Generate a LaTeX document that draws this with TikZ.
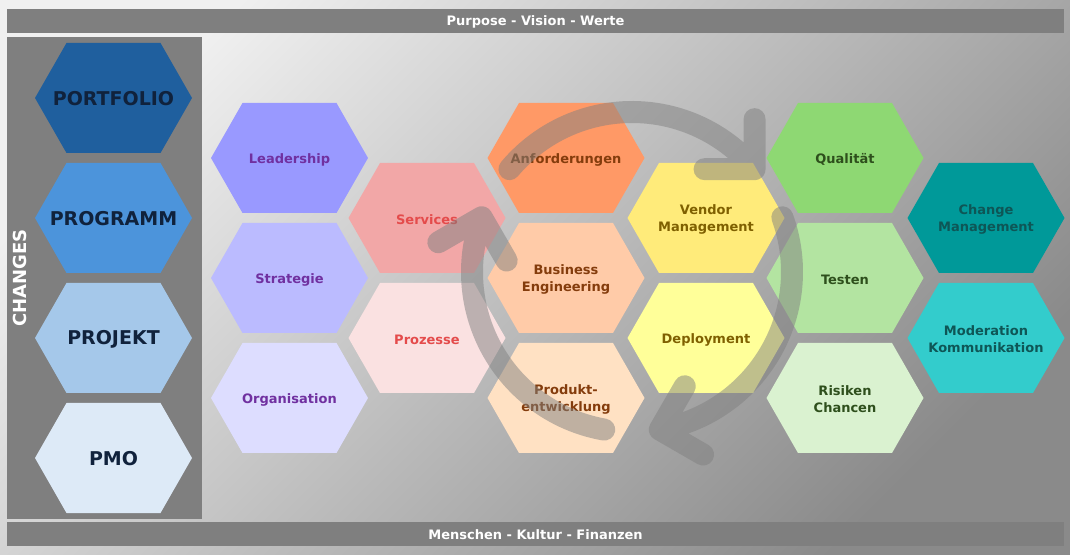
\documentclass[tikz,border=0pt]{standalone}
\usepackage{fontspec}
\setmainfont{DejaVu Sans}
\usetikzlibrary{calc}

\definecolor{bgLight}{HTML}{F0F0F0}
\definecolor{bgDark}{HTML}{8A8A8A}
\definecolor{barGray}{HTML}{7F7F7F}
\definecolor{cPF}{HTML}{1F5F9E}
\definecolor{cPG}{HTML}{4C94DB}
\definecolor{cPJ}{HTML}{A5C8EA}
\definecolor{cPMO}{HTML}{DDEAF7}
\definecolor{tNavy}{HTML}{10223C}
\definecolor{cLead}{HTML}{9999FF}
\definecolor{cStrat}{HTML}{BBBBFF}
\definecolor{cOrg}{HTML}{DDDDFF}
\definecolor{tPurple}{HTML}{7030A0}
\definecolor{cServ}{HTML}{F2A7A7}
\definecolor{cProz}{HTML}{FAE1E1}
\definecolor{tRed}{HTML}{E44B4B}
\definecolor{cAnf}{HTML}{FF9966}
\definecolor{cBeng}{HTML}{FFCBA8}
\definecolor{cProd}{HTML}{FFE1C3}
\definecolor{tBrown}{HTML}{843C0C}
\definecolor{cVend}{HTML}{FFEB7A}
\definecolor{cDepl}{HTML}{FFFF99}
\definecolor{tOlive}{HTML}{7F6000}
\definecolor{cQual}{HTML}{8ED873}
\definecolor{cTest}{HTML}{B3E4A1}
\definecolor{cRisk}{HTML}{DAF2D0}
\definecolor{tGreen}{HTML}{2E4F1C}
\definecolor{cChg}{HTML}{009999}
\definecolor{cMod}{HTML}{33CCCC}
\definecolor{tTeal}{HTML}{0E5656}

\begin{document}
\begin{tikzpicture}
    [x=1pt,y=1pt,every node/.style={inner sep=0pt,align=center,font=\bfseries\fontsize{13}{17}\selectfont},
     bar/.style={fill=barGray},
     cyc/.style={draw=black!50,opacity=.5,line width=22pt,line cap=round,line join=round}]
      \useasboundingbox (0,0) rectangle (1070,554);
      \shade[top color=bgLight,bottom color=bgDark,shading angle=45] (0,0) rectangle (1070,554);

      \fill[bar] (7,521) rectangle (1064,545);
      \fill[bar] (7,8) rectangle (1064,32);
      \fill[bar] (7,35) rectangle (202,517);

      \node (top)[text=white]    at (535.5,532) {Purpose - Vision - Werte};
      \node (bottom)[text=white] at (535.5,19)  {Menschen - Kultur - Finanzen};
      \node (changes)[text=white,rotate=90,font=\bfseries\fontsize{18}{20}\selectfont] at (20,276) {CHANGES};

      % changes column
      \foreach \n/\y/\f in {pf/456/cPF,pg/336/cPG,pj/216/cPJ,pmo/96/cPMO}{
	\fill[\f] (113.5,\y) ++(-78.5,0) -- ++(31.5,55) -- ++(94,0) -- ++(31.5,-55) -- ++(-31.5,-55) -- ++(-94,0) -- cycle;
      }
      \node (pf)[text=tNavy,font=\bfseries\fontsize{19}{22}\selectfont]  at (113.5,455) {PORTFOLIO};
      \node (pg)[text=tNavy,font=\bfseries\fontsize{19}{22}\selectfont]  at (113.5,335) {PROGRAMM};
      \node (pj)[text=tNavy,font=\bfseries\fontsize{19}{22}\selectfont]  at (113.5,215) {PROJEKT};
      \node (pmo)[text=tNavy,font=\bfseries\fontsize{19}{22}\selectfont] at (113.5,95)  {PMO};

      % honeycomb
      \foreach \n/\x/\y/\f/\t/\s in {lead/289.5/396/cLead/tPurple/Leadership,
	strat/289.5/276/cStrat/tPurple/Strategie,
	org/289.5/156/cOrg/tPurple/Organisation,
	serv/427/336/cServ/tRed/Services,
	proz/427/216/cProz/tRed/Prozesse,
	anf/566/396/cAnf/tBrown/Anforderungen,
	beng/566/276/cBeng/tBrown/{Business\\Engineering},
	prod/566/156/cProd/tBrown/{Produkt-\\entwicklung},
	vend/706/336/cVend/tOlive/{Vendor\\Management},
	depl/706/216/cDepl/tOlive/Deployment,
	qual/845/396/cQual/tGreen/Qualität,
	test/845/276/cTest/tGreen/Testen,
	risk/845/156/cRisk/tGreen/{Risiken\\Chancen},
	chg/986/336/cChg/tTeal/{Change\\Management},
	mod/986/216/cMod/tTeal/{Moderation\\Kommunikation}}{
	\fill[\f] (\x,\y) ++(-78.5,0) -- ++(31.5,55) -- ++(94,0) -- ++(31.5,-55) -- ++(-31.5,-55) -- ++(-94,0) -- cycle;
	\node (\n)[text=\t] at (\x,\y-1.5) {\s};
      }

      % cycle arrows
      \coordinate (c) at (632,282);
      \foreach \a in {140,20,-100}
	\draw[cyc] ($(c)+(\a:160)$) arc[start angle=\a,end angle=\a-100,radius=160] coordinate (e)
	  -- ++(\a-50:50) (e) -- ++(\a+40:50);
    \end{tikzpicture}
\end{document}
